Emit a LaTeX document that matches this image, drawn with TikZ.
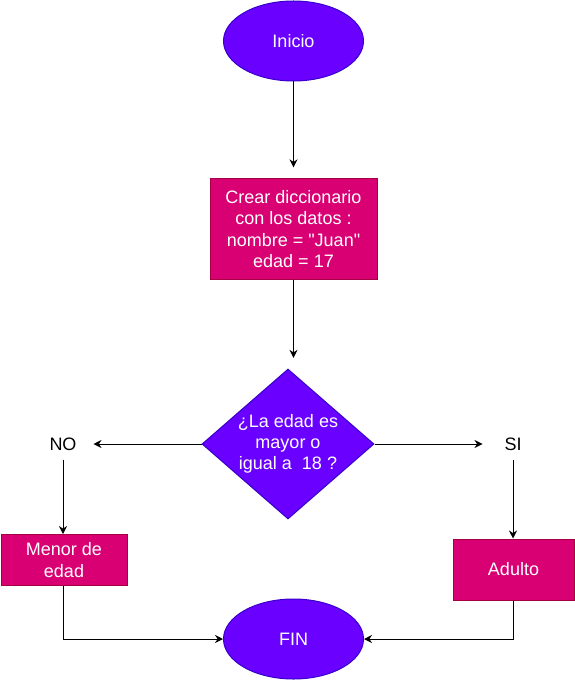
\documentclass[tikz,border=0pt]{standalone}
\usepackage{fontspec}
\setmainfont{Liberation Sans}
\usetikzlibrary{shapes.geometric,arrows.meta}

\definecolor{violeta}{HTML}{6A00FF}
\definecolor{bordevioleta}{HTML}{3700CC}
\definecolor{rosa}{HTML}{D80073}
\definecolor{borderosa}{HTML}{A50040}

\tikzset{
  extremo/.style={ellipse, draw=bordevioleta, fill=violeta, text=white,
    minimum width=105pt, minimum height=60pt, inner sep=0pt},
  proceso/.style={rectangle, draw=borderosa, fill=rosa, text=white,
    align=center, inner sep=0pt},
  decision/.style={diamond, draw=bordevioleta, fill=violeta, text=white,
    align=center, shape aspect=1.15, minimum width=129pt, minimum height=112.5pt,
    inner sep=0pt},
  etiqueta/.style={minimum width=45pt, minimum height=22.5pt, inner sep=0pt}
}

\begin{document}
\begin{tikzpicture}[x=0.75pt, y=-0.75pt, line width=0.75pt,
    >={Stealth[length=6pt,width=6pt]},
    every node/.style={font=\fontsize{13.5}{16}\selectfont}]
  \useasboundingbox (0,0) rectangle (574,680);
  % Bloques
  \node[extremo] (inicio) at (293.5,41) {Inicio};
  \node[proceso, minimum width=125.25pt, minimum height=75.75pt] (crear) at (293.5,229)
    {Crear diccionario\\con los datos :\\nombre = \textquotedbl Juan\textquotedbl\\edad = 17};
  \node[decision] (pregunta) at (288,444) {¿La edad es\\mayor o\\igual a\ \ 18 ?};
  \node[etiqueta] (no) at (63,444) {NO};
  \node[etiqueta] (si) at (513,444) {SI};
  \node[proceso, minimum width=94.5pt, minimum height=38.25pt] (menor) at (64,560)
    {Menor de\\edad};
  \node[proceso, minimum width=90.75pt, minimum height=45.75pt] (adulto) at (513.5,569.5)
    {Adulto};
  \node[extremo] (fin) at (293.5,639) {FIN};
  % Flechas
  \draw[->, shorten >=8pt] (inicio) -- (crear);
  \draw[->, shorten >=8pt] (crear.south) -- (crear.south |- pregunta.north);
  \draw[->] (pregunta) -- (no);
  \draw[->] (pregunta) -- (si);
  \draw[->] (no) -- (no |- menor.north);
  \draw[->] (si) -- (si |- adulto.north);
  \draw[->] (menor.south -| no) |- (fin);
  \draw[->] (adulto.south -| si) |- (fin);
\end{tikzpicture}
\end{document}
